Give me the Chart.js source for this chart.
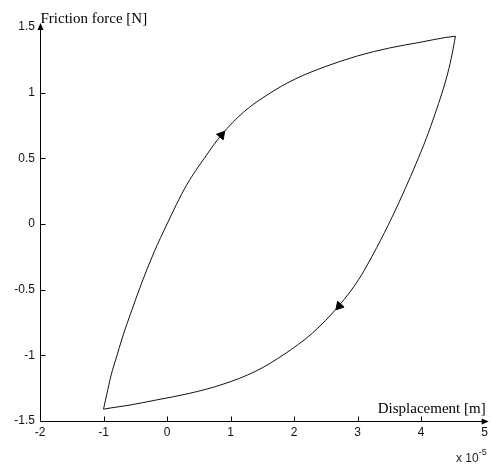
<!DOCTYPE html>
<html><head><meta charset="utf-8">
<script src="https://cdn.jsdelivr.net/npm/chart.js@4/dist/chart.umd.min.js"></script>
<style>html,body{margin:0;padding:0;background:#fff}#wrap{width:492px;height:468px;position:relative}</style>
</head><body><div id="wrap"><canvas id="c" width="492" height="468"></canvas></div>
<script>
// values in units of 1e-5 m (x) and N (y)
const xTicks = [-2, -1, 0, 1, 2, 3, 4, 5];
const yTicks = [-1.5, -1, -0.5, 0, 0.5, 1, 1.5];
const loadingX = [-1.0, -0.95, -0.88, -0.8, -0.7, -0.55, -0.4, -0.2, 0.0, 0.3, 0.6, 0.86, 1.2, 1.6, 2.0, 2.5, 3.0, 3.5, 4.0, 4.38, 4.54];
const loadingY = [-1.41, -1.30, -1.15, -1.02, -0.86, -0.65, -0.45, -0.21, 0.0, 0.29, 0.51, 0.68, 0.85, 0.99, 1.10, 1.20, 1.28, 1.34, 1.385, 1.42, 1.43];
const unloadingX = [4.54, 4.49, 4.42, 4.33, 4.22, 4.08, 3.92, 3.75, 3.55, 3.3, 3.02, 2.71, 2.29, 1.85, 1.4, 0.88, 0.35, -0.17, -0.6, -0.88, -1.0];
const unloadingY = [1.43, 1.30, 1.15, 1.00, 0.84, 0.65, 0.46, 0.27, 0.06, -0.18, -0.42, -0.62, -0.83, -0.99, -1.12, -1.22, -1.29, -1.34, -1.38, -1.40, -1.41];
const arrowX = [0.857, 2.71];
const arrowY = [0.677, -0.625];
const xLabel = 'Displacement [m]';
const yLabel = 'Friction force [N]';
const xExponent = '-5';

const pts = (xs, ys) => xs.map((v, i) => ({x: v, y: ys[i]}));

const axesPlugin = {
  id: 'axes',
  afterDraw(chart) {
    const {ctx, scales: {x, y}} = chart;
    const x0 = Math.round(x.getPixelForValue(x.min)) + 0.5;
    const y0 = Math.round(y.getPixelForValue(y.min)) + 0.5;
    const yTop = y.getPixelForValue(y.max);
    const xRight = x.getPixelForValue(x.max);
    ctx.save();
    ctx.strokeStyle = '#000'; ctx.fillStyle = '#000'; ctx.lineWidth = 1;
    ctx.beginPath();
    ctx.moveTo(x0, y0); ctx.lineTo(x0, yTop - 1);
    ctx.moveTo(x0, y0); ctx.lineTo(xRight + 1, y0);
    xTicks.slice(1, -1).forEach(v => { const p = Math.round(x.getPixelForValue(v)) + 0.5; ctx.moveTo(p, y0); ctx.lineTo(p, y0 - 5); });
    yTicks.slice(1, -1).forEach(v => { const p = Math.round(y.getPixelForValue(v)) + 0.5; ctx.moveTo(x0, p); ctx.lineTo(x0 + 5, p); });
    ctx.stroke();
    // arrow heads
    ctx.beginPath();
    ctx.moveTo(x0, yTop - 4); ctx.lineTo(x0 - 3, yTop + 3); ctx.lineTo(x0 + 3, yTop + 3); ctx.closePath();
    ctx.moveTo(xRight + 4, y0); ctx.lineTo(xRight - 3, y0 - 3); ctx.lineTo(xRight - 3, y0 + 3); ctx.closePath();
    ctx.fill();
    // labels
    ctx.font = '15px "Liberation Serif", "Times New Roman", serif';
    ctx.textBaseline = 'alphabetic';
    ctx.textAlign = 'left';
    ctx.fillText(yLabel, x0, yTop - 4);
    ctx.textAlign = 'right';
    ctx.fillText(xLabel, xRight + 1, y0 - 9);
    ctx.font = '12px "Liberation Sans", Arial, sans-serif';
    ctx.fillStyle = '#222';
    ctx.fillText('x 10', xRight - 6, 462);
    ctx.font = '9px "Liberation Sans", Arial, sans-serif';
    ctx.textAlign = 'left';
    ctx.fillText(xExponent, xRight - 6, 455);
    ctx.restore();
  }
};

const tickFont = {family: '"Liberation Sans", Arial, sans-serif', size: 12};
const fmt = v => String(v);

new Chart(document.getElementById('c'), {
  type: 'scatter',
  data: {
    datasets: [
      {data: pts(loadingX, loadingY), showLine: true, borderColor: '#111', borderWidth: 1, pointRadius: 0, cubicInterpolationMode: 'monotone', fill: false},
      {data: pts(unloadingX, unloadingY), showLine: true, borderColor: '#111', borderWidth: 1, pointRadius: 0, cubicInterpolationMode: 'monotone', fill: false},
      {data: pts(arrowX, arrowY), showLine: false, pointStyle: 'triangle', pointRadius: 5, rotation: [40, 222], backgroundColor: '#000', borderColor: '#000', borderWidth: 1}
    ]
  },
  options: {
    responsive: false,
    animation: false,
    devicePixelRatio: 1,
    layout: {padding: {top: 27, right: 6, left: 0, bottom: 0}},
    plugins: {legend: {display: false}, tooltip: {enabled: false}},
    scales: {
      x: {
        type: 'linear', min: -2, max: 5,
        afterBuildTicks: s => { s.ticks = xTicks.map(v => ({value: v})); },
        afterFit: s => { s.height = 47; },
        grid: {display: false, drawTicks: false},
        border: {display: false},
        ticks: {font: tickFont, color: '#111', padding: 4, maxRotation: 0, autoSkip: false, callback: fmt}
      },
      y: {
        type: 'linear', min: -1.5, max: 1.5,
        afterBuildTicks: s => { s.ticks = yTicks.map(v => ({value: v})); },
        afterFit: s => { s.width = 40; },
        grid: {display: false, drawTicks: false},
        border: {display: false},
        ticks: {font: tickFont, color: '#111', padding: 5, autoSkip: false, callback: fmt}
      }
    }
  },
  plugins: [axesPlugin]
});
</script>
</body></html>
